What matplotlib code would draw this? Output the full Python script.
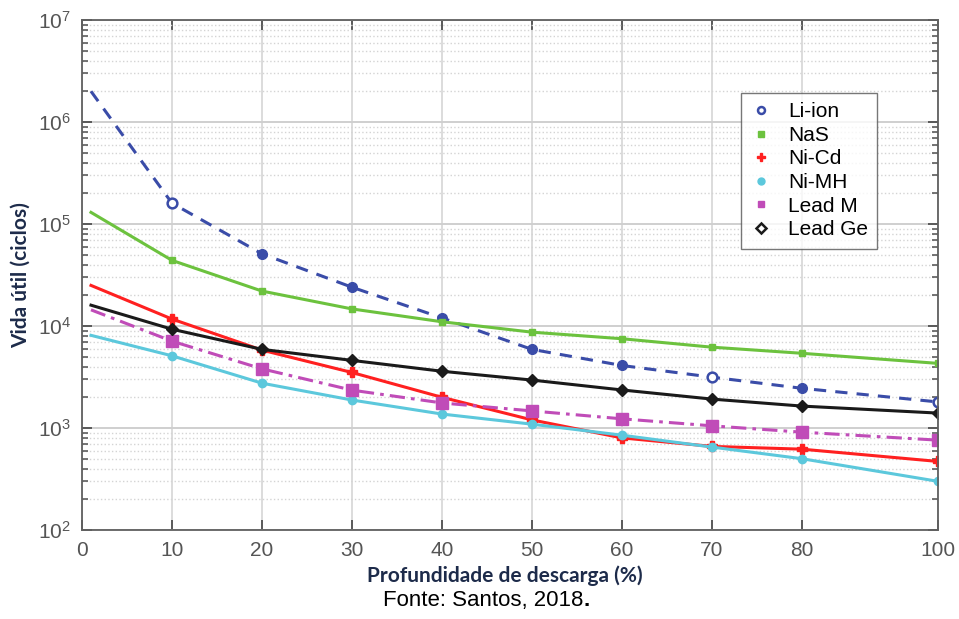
import numpy as np
import matplotlib
matplotlib.use('Agg')
import matplotlib.pyplot as plt
from matplotlib.ticker import LogLocator, NullFormatter

# profundidade de descarga (%) e vida util (ciclos)
dod = [1, 10, 20, 30, 40, 50, 60, 70, 80, 100]
li_ion = [2.0e6, 1.6e5, 5.1e4, 2.4e4, 1.2e4, 5.9e3, 4.1e3, 3.15e3, 2.45e3, 1.8e3]
nas = [1.3e5, 4.4e4, 2.2e4, 1.47e4, 1.1e4, 8.7e3, 7.5e3, 6.2e3, 5.4e3, 4.3e3]
ni_cd = [2.5e4, 1.17e4, 5.8e3, 3.5e3, 2.0e3, 1.2e3, 8.0e2, 6.6e2, 6.2e2, 4.7e2]
ni_mh = [8.1e3, 5.1e3, 2.75e3, 1.88e3, 1.37e3, 1.09e3, 8.5e2, 6.5e2, 5.0e2, 3.0e2]
lead_m = [1.44e4, 7.1e3, 3.8e3, 2.35e3, 1.76e3, 1.47e3, 1.23e3, 1.05e3, 9.1e2, 7.6e2]
lead_ge = [1.6e4, 9.3e3, 5.9e3, 4.6e3, 3.6e3, 2.95e3, 2.36e3, 1.92e3, 1.64e3, 1.4e3]

li_open = [10, 70, 100]  # marcadores vazios do Li-ion
xticks = [0, 10, 20, 30, 40, 50, 60, 70, 80, 100]


# eixo x comprimido depois de 80 (como na figura original)
def fwd(x):
    x = np.asarray(x, dtype=float)
    return np.where(x <= 80, x, 80 + (x - 80) * 0.756)


def inv(y):
    y = np.asarray(y, dtype=float)
    return np.where(y <= 80, y, 80 + (y - 80) / 0.756)


fig = plt.figure(figsize=(9.59, 6.19), dpi=100)
ax = fig.add_axes([0.0855, 0.1438, 0.8925, 0.8239])
ax.set_xscale('function', functions=(fwd, inv))
ax.set_yscale('log')

# Li-ion: linha tracejada, marcadores cheios e vazios
ax.plot(dod, li_ion, color='#3a4ca8', lw=2.2, dashes=(4, 3))
xf = [d for d in dod[1:] if d not in li_open]
yf = [v for d, v in zip(dod[1:], li_ion[1:]) if d not in li_open]
xo = [d for d in dod[1:] if d in li_open]
yo = [v for d, v in zip(dod[1:], li_ion[1:]) if d in li_open]
ax.plot(xf, yf, 'o', color='#3a4ca8', ms=7, ls='none')
ax.plot(xo, yo, 'o', color='#3a4ca8', mfc='white', mew=1.8, ms=7, ls='none')
ax.plot([], [], 'o', color='#3a4ca8', mfc='white', mew=1.8, ms=5, ls='none', label='Li-ion')

ax.plot(dod, nas, color='#6cc23e', lw=2.2, marker='s', ms=5, markevery=list(range(1, 10)))
ax.plot([], [], 's', color='#6cc23e', ms=4, ls='none', label='NaS')

ax.plot(dod, ni_cd, color='#ff2020', lw=2.2, marker='P', ms=7, markevery=list(range(1, 10)))
ax.plot([], [], 'P', color='#ff2020', ms=6, ls='none', label='Ni-Cd')

ax.plot(dod, ni_mh, color='#5cc8dc', lw=2.2, marker='o', ms=6, markevery=list(range(1, 10)))
ax.plot([], [], 'o', color='#5cc8dc', ms=5, ls='none', label='Ni-MH')

ax.plot(dod, lead_m, color='#c04cb8', lw=2.2, dashes=(5, 2, 1.2, 2), marker='s', ms=8,
        markevery=list(range(1, 10)))
ax.plot([], [], 's', color='#c04cb8', ms=5, ls='none', label='Lead M')

ax.plot(dod, lead_ge, color='#1a1a1a', lw=2.2, marker='D', ms=6, markevery=list(range(1, 10)))
ax.plot([], [], 'D', color='#1a1a1a', mfc='white', mew=1.8, ms=5, ls='none', label='Lead Ge')

ax.set_xlim(0, 100)
ax.set_ylim(1e2, 1e7)
ax.set_xticks(xticks)
ax.set_xticklabels([str(t) for t in xticks])
ax.yaxis.set_major_locator(LogLocator(base=10, numticks=10))
ax.yaxis.set_minor_locator(LogLocator(base=10, subs=np.arange(2, 10), numticks=50))
ax.yaxis.set_minor_formatter(NullFormatter())

ax.grid(True, which='major', axis='x', color='#d6d6d6', lw=1.2)
ax.grid(True, which='major', axis='y', color='#cfcfcf', lw=1.4)
ax.grid(True, which='minor', axis='y', color='#d4d4d4', lw=1.0, ls=':')
ax.set_axisbelow(True)

for s in ax.spines.values():
    s.set_color('#606060')
    s.set_linewidth(1.3)
ax.tick_params(which='both', direction='in', top=True, right=True, colors='#505050',
               labelcolor='#555555', labelsize=15, pad=8)
ax.tick_params(which='major', length=7, width=1.3)
ax.tick_params(which='minor', length=4, width=1.1)
for lab in ax.get_xticklabels() + ax.get_yticklabels():
    lab.set_fontfamily('Liberation Sans')

ax.set_ylabel('Vida útil (ciclos)', fontsize=15, fontweight='bold', fontfamily='Lato',
              color='#1d2b4a')
ax.yaxis.set_label_coords(-0.06, 0.5)
ax.set_xlabel('Profundidade de descarga (%)', fontsize=15, fontweight='bold', fontfamily='Lato',
              color='#1d2b4a')
ax.xaxis.set_label_coords(0.494, -0.07)

leg = ax.legend(loc='upper right', bbox_to_anchor=(0.929, 0.857), borderaxespad=0,
                frameon=True, fancybox=False, handlelength=1.0, handletextpad=0.8,
                borderpad=0.45, labelspacing=0.22, prop={'family': 'Liberation Sans', 'size': 15})
leg.get_frame().set_edgecolor('#555555')
leg.get_frame().set_linewidth(1.0)

fig.text(0.608, 0.021, 'Fonte: Santos, 2018', ha='right', va='baseline', fontsize=16,
         fontfamily='Liberation Sans', color='black')
fig.text(0.608, 0.021, '.', ha='left', va='baseline', fontsize=16, fontweight='bold',
         fontfamily='Liberation Sans', color='black')

fig.savefig('out.png', dpi=100)
